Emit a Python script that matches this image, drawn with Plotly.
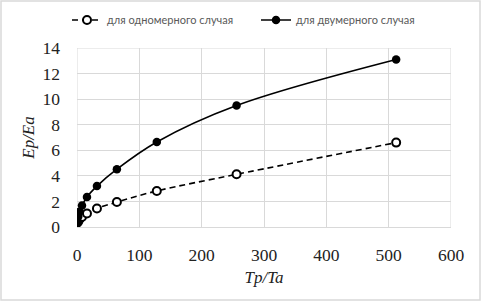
import plotly.graph_objects as go

tp_ta = [1, 2, 4, 8, 16, 32, 64, 128, 256, 512]
ep_ea_1d = [0.35, 0.45, 0.6, 0.78, 1.05, 1.45, 1.95, 2.82, 4.12, 6.6]
ep_ea_2d = [0.45, 0.82, 1.2, 1.68, 2.35, 3.2, 4.52, 6.65, 9.5, 13.1]
name_1d = "для одномерного случая"
name_2d = "для двумерного случая"

L, R, T, B = 77, 31, 48, 75
W, H = 482, 302
pw, ph = W - L - R, H - T - B

fig = go.Figure()
fig.add_trace(go.Scatter(
    x=tp_ta, y=ep_ea_1d, name=name_1d, mode="lines+markers",
    line=dict(color="black", width=1.6, dash="6px,4px", shape="spline", smoothing=1),
    marker=dict(symbol="circle", size=8, color="white", line=dict(color="black", width=2)),
))
fig.add_trace(go.Scatter(
    x=tp_ta, y=ep_ea_2d, name=name_2d, mode="lines+markers",
    line=dict(color="black", width=1.6, shape="spline", smoothing=1),
    marker=dict(symbol="circle", size=8.5, color="black"),
))

serif = "'Times New Roman', 'Liberation Serif', 'DejaVu Serif', serif"
fig.update_layout(
    width=W, height=H,
    margin=dict(l=L, r=R, t=T, b=B, autoexpand=False),
    paper_bgcolor="white", plot_bgcolor="white",
    showlegend=True,
    legend=dict(orientation="h", x=(67 - L) / pw, xanchor="left",
                y=(H - B - 20) / ph, yanchor="middle",
                font=dict(family="Lato", size=11, color="#595959"),
                bgcolor="rgba(0,0,0,0)", itemwidth=30, entrywidth=144),
    xaxis=dict(range=[0, 600], dtick=100, showgrid=True, gridcolor="#d9d9d9", gridwidth=1,
               zeroline=False, showline=True, linecolor="#d9d9d9", mirror=False,
               ticks="", automargin=False, ticklabelstandoff=12,
               tickfont=dict(family=serif, size=17.5, color="#222"),
               title=dict(text="<i>Tp/Ta</i>", font=dict(family=serif, size=17, color="#222"), standoff=7)),
    yaxis=dict(range=[0, 14], dtick=2, showgrid=True, gridcolor="#d9d9d9", gridwidth=1,
               zeroline=False, showline=False, ticks="", automargin=False, ticklabelstandoff=16,
               tickfont=dict(family=serif, size=17.5, color="#222"),
               title=dict(text="<i>Ep/Ea</i>", font=dict(family=serif, size=17, color="#222"), standoff=3)),
)
fig.add_shape(type="rect", xref="paper", yref="paper",
              x0=(1 - L) / pw, x1=(W - 2 - L) / pw,
              y0=(H - B - (H - 2)) / ph, y1=(H - B - 1) / ph,
              line=dict(color="#d9d9d9", width=1.5), fillcolor="rgba(0,0,0,0)", layer="below")
fig.add_shape(type="line", xref="x", yref="paper", x0=600, x1=600, y0=0, y1=1,
              line=dict(color="#d9d9d9", width=1), layer="below")
fig.add_shape(type="line", xref="paper", yref="y", x0=0, x1=1, y0=14, y1=14,
              line=dict(color="#d9d9d9", width=1), layer="below")
fig.add_shape(type="line", xref="x", yref="paper", x0=0, x1=0, y0=0, y1=1,
              line=dict(color="#d9d9d9", width=1), layer="below")

fig.write_html("out.html", config={"displayModeBar": False},
               post_script="document.body.style.margin='0';document.body.style.overflow='hidden';")
